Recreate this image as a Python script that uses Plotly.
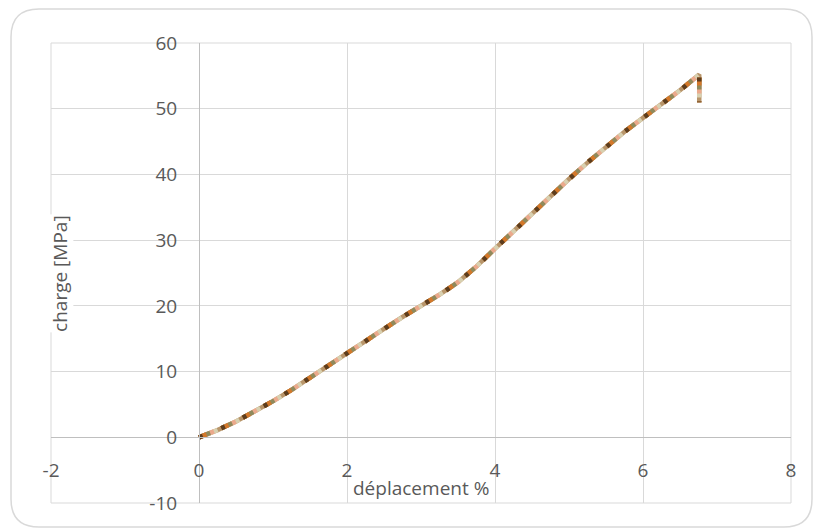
import plotly.graph_objects as go

# Data
deplacement = [0, 0.25, 0.5, 0.75, 1.0, 1.25, 1.5, 1.75, 2.0, 2.25, 2.5, 2.75, 3.0,
               3.25, 3.5, 3.75, 4.0, 4.25, 4.5, 4.75, 5.0, 5.25, 5.5, 5.75, 6.0,
               6.25, 6.5, 6.76, 6.76]
charge = [0, 1.1, 2.4, 3.9, 5.5, 7.2, 9.1, 11.0, 12.9, 14.7, 16.5, 18.3, 20.0,
          21.7, 23.6, 26.0, 28.7, 31.4, 34.1, 36.7, 39.3, 41.8, 44.2, 46.5, 48.6,
          50.7, 52.8, 55.2, 51.0]

x_ticks = [-2, 0, 2, 4, 6, 8]
y_ticks = [-10, 0, 10, 20, 30, 40, 50, 60]

x_title = "déplacement %"
y_title = "charge [MPa]"

FONT = "Open Sans"
TXT = "#595959"
GRID = "#d9d9d9"
AXIS = "#bfbfbf"

fig = go.Figure()

# layered dash patterns give a repeating sequence of 6 colours, 4px each
layers = [
    ("#b8956a", "solid"),
    ("#d8d0b0", "20px,4px"),
    ("#eba98c", "16px,8px"),
    ("#8f8a5c", "12px,12px"),
    ("#d4782a", "8px,16px"),
    ("#5c3d1e", "4px,20px"),
]
for col, dash in layers:
    fig.add_trace(go.Scatter(x=deplacement, y=charge, mode="lines",
                             line=dict(color=col, width=4.5, dash=dash),
                             hoverinfo="skip", showlegend=False))

fig.update_layout(
    width=815, height=528,
    margin=dict(l=51, r=24, t=43, b=21),
    paper_bgcolor="white", plot_bgcolor="white",
    font=dict(family=FONT, color=TXT, size=19),
    showlegend=False,
    xaxis=dict(range=[-2, 8], tickvals=x_ticks, ticktext=[str(v) for v in x_ticks],
               showgrid=True, gridcolor=GRID, gridwidth=1, zeroline=False,
               showline=True, linecolor=AXIS, linewidth=1,
               anchor="free", position=1/7,
               ticks="outside", ticklen=16, tickcolor="rgba(0,0,0,0)",
               tickfont=dict(family=FONT, size=19, color=TXT)),
    yaxis=dict(range=[-10, 60], tickvals=y_ticks, ticktext=[str(v) for v in y_ticks],
               showgrid=True, gridcolor=GRID, gridwidth=1, zeroline=False,
               showline=True, linecolor=AXIS, linewidth=1,
               anchor="free", position=0.2,
               ticks="outside", ticklen=18, tickcolor="rgba(0,0,0,0)",
               tickfont=dict(family=FONT, size=19, color=TXT)),
)

# plot-area frame (edge gridlines)
fig.add_shape(type="rect", xref="paper", yref="paper", x0=0, x1=1, y0=0, y1=1,
              line=dict(color=GRID, width=1), layer="below")

# rounded chart border (pixel offsets from plot-area bottom-left)
r = 28
L, R, B, T = -40, 761, -24, 494
path = (f"M {L+r},{T} L {R-r},{T} Q {R},{T} {R},{T-r} L {R},{B+r} Q {R},{B} {R-r},{B} "
        f"L {L+r},{B} Q {L},{B} {L},{B+r} L {L},{T-r} Q {L},{T} {L+r},{T} Z")
fig.add_shape(type="path", path=path, xref="paper", yref="paper",
              xsizemode="pixel", ysizemode="pixel", xanchor=0, yanchor=0,
              line=dict(color=GRID, width=1.5), layer="below")

fig.add_annotation(text=x_title, xref="paper", yref="paper", x=0.5, y=0.032,
                   showarrow=False, font=dict(family=FONT, size=19, color=TXT),
                   xanchor="center", yanchor="middle", bgcolor="white",
                   borderpad=0)
fig.add_annotation(text=y_title, xref="paper", yref="paper", x=0.012, y=0.5,
                   showarrow=False, textangle=-90,
                   font=dict(family=FONT, size=19, color=TXT),
                   xanchor="center", yanchor="middle", bgcolor="white",
                   borderpad=0)

fig.write_html("out.html", config={"displayModeBar": False},
               post_script="document.body.style.margin='0';document.body.style.overflow='hidden';")
